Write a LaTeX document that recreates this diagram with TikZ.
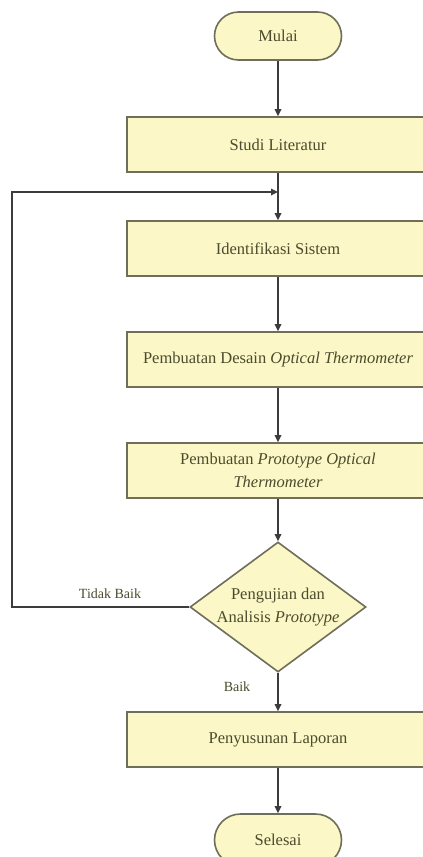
\documentclass[tikz,border=0pt]{standalone}
\usepackage{fontspec}
\setmainfont{Liberation Serif}
\usetikzlibrary{arrows.meta,shapes.geometric}
\definecolor{boxfill}{HTML}{FBF7C6}
\definecolor{boxline}{HTML}{6E6E5A}
\definecolor{txt}{HTML}{4B4B2D}
\definecolor{conn}{HTML}{3C3C3C}
\begin{document}
\begin{tikzpicture}[x=1pt,y=-1pt,
  every node/.style={text=txt},
  procbox/.style={draw=boxline, fill=boxfill, line width=1.6pt, minimum width=302pt, minimum height=55pt, align=center, inner sep=0pt, font=\fontsize{16.5}{23}\selectfont},
  termbox/.style={draw=boxline, fill=boxfill, line width=1.6pt, rounded corners=24pt, minimum width=127pt, minimum height=48pt, inner sep=0pt, font=\fontsize{16.5}{23}\selectfont},
  decbox/.style={draw=boxline, fill=boxfill, line width=1.6pt, diamond, minimum width=176pt, minimum height=130pt, inner sep=-12pt, align=center, font=\fontsize{16.5}{23}\selectfont},
  arr/.style={draw=conn, line width=1.6pt, -{Triangle[length=7pt,width=6.5pt]}},
  lbl/.style={font=\fontsize{14}{16}\selectfont}]
\useasboundingbox (0,0) rectangle (423,857);
\clip (0,0) rectangle (423,857);
\fill[white] (0,0) rectangle (423,857);
\node[termbox] (mulai) at (278,36) {Mulai};
\node[procbox] (studi) at (278,144.5) {Studi Literatur};
\node[procbox] (ident) at (278,248.5) {Identifikasi Sistem};
\node[procbox] (desain) at (278,359.5) {Pembuatan Desain \textit{Optical Thermometer}};
\node[procbox] (proto) at (278,470.5) {Pembuatan \textit{Prototype Optical}\\\textit{Thermometer}};
\node[decbox] (uji) at (278,607) {Pengujian dan\\Analisis \textit{Prototype}};
\node[procbox] (lapor) at (278,739.5) {Penyusunan Laporan};
\node[termbox, minimum height=52pt, rounded corners=26pt] (selesai) at (278,840) {Selesai};
\coordinate (fbL) at (12,607);
\coordinate (fbJ) at (278,192);
\draw[arr] (mulai) -- (studi);
\draw[arr] (studi) -- (ident);
\draw[arr] (ident) -- (desain);
\draw[arr] (desain) -- (proto);
\draw[arr] (proto) -- (uji);
\draw[arr] (uji) -- (lapor);
\draw[arr] (lapor) -- (selesai);
\draw[arr] (uji.west) -- (fbL) |- (fbJ);
\node[lbl] (tb) at (110,594) {Tidak Baik};
\node[lbl] (bk) at (237,687) {Baik};
\end{tikzpicture}
\end{document}
